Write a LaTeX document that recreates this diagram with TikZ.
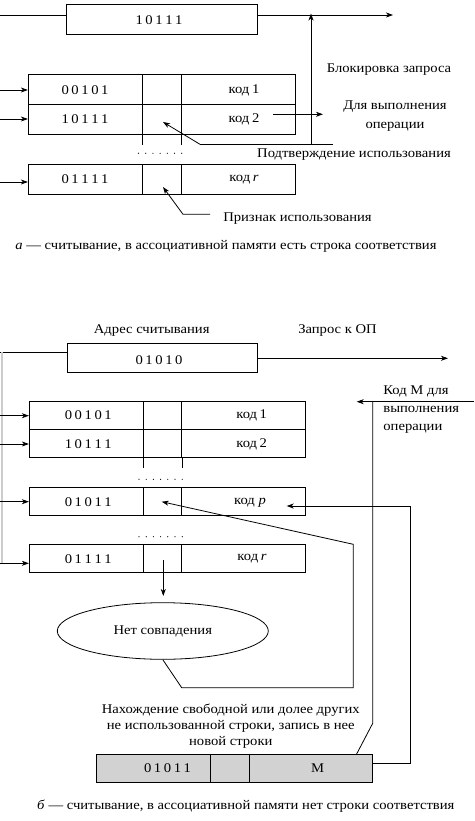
\documentclass[tikz,border=0pt]{standalone}
\usepackage{fontspec}
\setmainfont{Liberation Serif}[FakeStretch=1.1]
\usetikzlibrary{arrows.meta,shapes.geometric}
\newcommand{\dgap}{\hspace{2.6pt}}
\begin{document}
\begin{tikzpicture}[x=1pt,y=-1pt,line width=0.8pt,
  arr/.style={-{Stealth[length=7pt,width=5pt,inset=2pt]}},
  cell/.style={draw,inner sep=0pt},
  txt/.style={inner sep=0pt,font=\fontsize{13.3}{15}\selectfont},
  dot/.style={fill,inner sep=0pt,minimum size=1.2pt,circle}]
\useasboundingbox (0,0) rectangle (474,821);

% ================= part a =================
\node[cell,minimum width=190.6pt,minimum height=30pt] (regA) at (162,19.3) {};
\node[txt] (regAt) at (159,20) {1\dgap0\dgap1\dgap1\dgap1};

\foreach \n/\y in {1/89.3,2/119.3,r/179.3}{
  \node[cell,minimum width=114.4pt,minimum height=30pt] (a\n L) at (85.5,\y) {};
  \node[cell,minimum width=38.3pt,minimum height=30pt] (a\n M) at (161.85,\y) {};
  \node[cell,minimum width=114pt,minimum height=30pt] (a\n R) at (238,\y) {};
}
\node[txt] (a1t) at (85,90) {0\dgap0\dgap1\dgap0\dgap1};
\node[txt] (a2t) at (85,119.5) {1\dgap0\dgap1\dgap1\dgap1};
\node[txt] (art) at (85,179.5) {0\dgap1\dgap1\dgap1\dgap1};
\node[txt] (a1k) at (244,90) {код\dgap1};
\node[txt] (a2k) at (244,119.5) {код\dgap2};
\node[txt] (ark) at (244,180) {код\dgap\textit{r}};

% separator extensions and dots
\draw (a2M.south west) -- ++(0,10);
\draw (a2M.south east) -- ++(0,10);
\foreach \i in {0,...,6} \node[dot] (da\i) at (138.5+\i*7.2,153.3) {};

% register in/out
\coordinate (inA) at (0,15);
\draw (inA) -- (inA -| regA.west);
\coordinate (outA) at (393,15);
\draw[arr] (outA -| regA.east) -- (outA);

% row inputs
\coordinate (ia1) at (0,90);
\coordinate (ia2) at (0,119);
\coordinate (iar) at (0,182);
\draw[arr] (ia1) -- (ia1 -| a1L.west);
\draw[arr] (ia2) -- (ia2 -| a2L.west);
\draw[arr] (iar) -- (iar -| arL.west);

% confirmation / blocking
\coordinate (pdL) at (200,144.3);
\coordinate (pdR) at (333,144.3);
\coordinate (pdV) at (311,144.3);
\coordinate (pdT) at (163,122);
\draw (pdL) -- (pdR);
\draw[arr] (pdV) -- ([yshift=1.5pt]pdV |- outA);
\draw[arr] (pdL) -- (pdT);

% output code 2
\coordinate (k2a) at (273,114.3);
\coordinate (k2b) at (323,114.3);
\draw[arr] (k2a) -- (k2b);

% usage flag
\coordinate (prE) at (210,214.3);
\coordinate (prK) at (183,214.3);
\coordinate (prT) at (163,187);
\draw[arr] (prE) -- (prK) -- (prT);

\node[txt] (blk) at (389,70) {Блокировка запроса};
\node[txt,align=center,font=\fontsize{13.3}{19}\selectfont] (dlya) at (395,116.5) {Для выполнения\\операции};
\node[txt] (podt) at (354,155) {Подтверждение использования};
\node[txt] (prizn) at (297.5,219) {Признак использования};
\node[txt] (capA) at (226,246.7) {\textit{а} — считывание, в ассоциативной памяти есть строка соответствия};

% ================= part b =================
\node[txt] (adr) at (151.7,330.7) {Адрес считывания};
\node[txt] (zap) at (337.5,330.7) {Запрос к ОП};
\node[cell,minimum width=190pt,minimum height=29pt] (regB) at (162.7,357.8) {};
\node[txt] (regBt) at (159,360) {0\dgap1\dgap0\dgap1\dgap0};

\foreach \n/\y in {1/415.2,2/443.5,p/501.5,r/558.5}{
  \node[cell,minimum width=114pt,minimum height=28.4pt] (b\n L) at (86.3,\y) {};
  \node[cell,minimum width=38.4pt,minimum height=28.4pt] (b\n M) at (162.5,\y) {};
  \node[cell,minimum width=124pt,minimum height=28.4pt] (b\n R) at (243.7,\y) {};
}
\node[txt] (b1t) at (88.3,415.5) {0\dgap0\dgap1\dgap0\dgap1};
\node[txt] (b2t) at (88.3,444) {1\dgap0\dgap1\dgap1\dgap1};
\node[txt] (bpt) at (88.3,502) {0\dgap1\dgap0\dgap1\dgap1};
\node[txt] (brt) at (88.3,559) {0\dgap1\dgap1\dgap1\dgap1};
\node[txt] (b1k) at (251.7,415.5) {код\dgap1};
\node[txt] (b2k) at (251.7,444) {код\dgap2};
\node[txt] (bpk) at (250,503) {код \textit{p}};
\node[txt] (brk) at (252,559) {код\dgap\textit{r}};

\draw (b2M.south west) -- ++(0,9.6);
\draw (b2M.south east) -- ++(0,9.6);
\foreach \i in {0,...,6} \node[dot] (db\i) at (139+\i*7.2,479.3) {};
\foreach \i in {0,...,6} \node[dot] (dc\i) at (139+\i*7.2,536.7) {};

% left bus
\coordinate (inB) at (0,352.3);
\draw (inB) -- (inB -| regB.west);
\coordinate (gT) at (1.5,352.3);
\coordinate (gB) at (1.5,564);
\draw[gray!40,line width=2pt] (gT) -- (gB);
\coordinate (ib1) at (0,415.7);
\coordinate (ib2) at (0,444);
\coordinate (ibp) at (0,501.7);
\coordinate (ibr) at (0,563.3);
\draw[arr] (ib1) -- (ib1 -| b1L.west);
\draw[arr] (ib2) -- (ib2 -| b2L.west);
\draw[arr] (ibp) -- (ibp -| bpL.west);
\draw[arr] (ibr) -- (ibr -| brL.west);

% request out
\coordinate (outB) at (448,358.3);
\draw[arr] (outB -| regB.east) -- (outB);

% code M input
\node[txt,align=left,anchor=west,font=\fontsize{13.3}{17.7}\selectfont] (kodM) at (383,409.5) {Код М для\\выполнения\\операции};
\coordinate (kmR) at (474,401.7);
\coordinate (kmL) at (356.7,401.7);
\coordinate (kmV) at (372.7,401.7);
\coordinate (kmB) at (372.7,723.3);
\coordinate (kmT) at (350,766.7);
\draw[arr] (kmR) -- (kmL);
\draw[arr] (kmV) -- (kmB) -- (kmT);

% no match
\coordinate (dnA) at (163.3,560);
\coordinate (dnB) at (163.3,596);
\draw[arr] (dnA) -- (dnB);
\node[draw,ellipse,inner sep=0pt,minimum width=211pt,minimum height=56.6pt,font=\fontsize{13.3}{15}\selectfont] (nomatch) at (162.8,631) {Нет совпадения};
\coordinate (nm1) at (181.7,687.7);
\coordinate (nm2) at (353.3,687.7);
\coordinate (nm3) at (353.3,544.3);
\coordinate (nmT) at (161.7,501.7);
\draw[arr] (nomatch.south) -- (nm1) -- (nm2) -- (nm3) -- (nmT);

% find text
\node[txt,align=center,font=\fontsize{13.3}{15.8}\selectfont] (find) at (230.8,726) {Нахождение свободной или долее других\\не использованной строки, запись в нее\\новой строки};

% gray new row
\node[cell,fill=gray!35,minimum width=114.7pt,minimum height=28.3pt] (gL) at (153.35,768.2) {};
\node[cell,fill=gray!35,minimum width=38.3pt,minimum height=28.3pt] (gM) at (229.85,768.2) {};
\node[cell,fill=gray!35,minimum width=123.7pt,minimum height=28.3pt] (gR) at (310.85,768.2) {};
\node[txt] (gLt) at (167.5,768.5) {0\dgap1\dgap0\dgap1\dgap1};
\node[txt] (gRt) at (317.5,768.5) {М};

% back to code p
\coordinate (bk0) at (372.7,763.3);
\coordinate (bk1) at (410.7,763.3);
\coordinate (bk2) at (410.7,506);
\coordinate (bkT) at (286.7,506);
\draw[arr] (bk0) -- (bk1) -- (bk2) -- (bkT);

\node[txt] (capB) at (245.8,806) {\textit{б} — считывание, в ассоциативной памяти нет строки соответствия};
\end{tikzpicture}
\end{document}
